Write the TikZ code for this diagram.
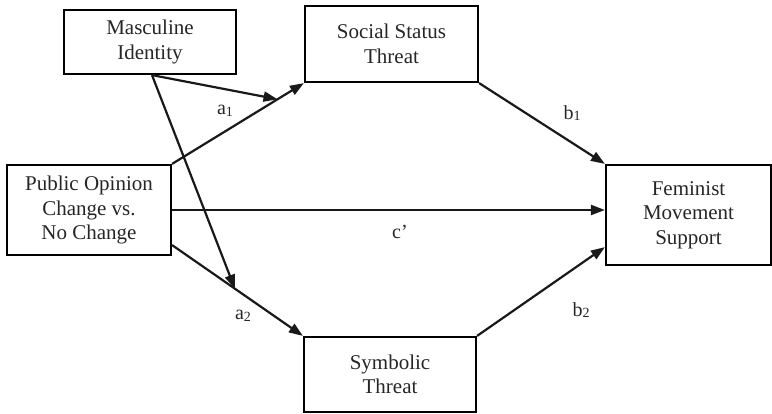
\documentclass[tikz,border=0pt]{standalone}
\usepackage{fontspec}
\setmainfont{Liberation Serif}
\usetikzlibrary{arrows.meta,calc}
\tikzset{
  box/.style={draw=black, line width=2.2pt, rectangle, inner sep=0pt, align=center,
    font=\fontsize{21}{24.5}\selectfont, text=black!85},
  conn/.style={line width=2.2pt, draw=black!90, -{Triangle[length=14pt,width=10pt]}},
  lbl/.style={font=\fontsize{20}{22}\selectfont, text=black!85, inner sep=0pt}
}
\newcommand{\subsc}[1]{\raisebox{-1.5pt}{\fontsize{14}{14}\selectfont #1}}
\begin{document}
\begin{tikzpicture}[x=1pt,y=1pt]
\useasboundingbox (0,0) rectangle (772,413);
\node[box, minimum width=172pt, minimum height=64pt] (MI) at (150,371) {Masculine\\Identity};
\node[box, minimum width=173pt, minimum height=76pt] (SST) at (391.5,369) {Social Status\\Threat};
\node[box, minimum width=164pt, minimum height=90pt] (PO) at (89,203) {Public Opinion\\Change vs.\\No Change};
\node[box, minimum width=172pt, minimum height=75pt] (SYM) at (390,38.5) {Symbolic\\Threat};
\node[box, minimum width=165pt, minimum height=100pt] (FEM) at (688.5,198) {Feminist\\Movement\\Support};
% paths
\draw[conn] (PO.north east) -- (SST.south west);
\draw[conn] ([yshift=11pt]PO.south east) -- (SYM.north west);
\draw[conn] (PO.east) -- (PO.east -| FEM.west);
\draw[conn] (SST.south east) -- (FEM.north west);
\draw[conn] (SYM.north east) -- ([yshift=19pt]FEM.south west);
\coordinate (m1) at ($(PO.north east)!0.8!(SST.south west)$);
\coordinate (m2) at ($([yshift=11pt]PO.south east)!0.48!(SYM.north west)$);
\draw[conn] ([xshift=2pt]MI.south) -- (m1);
\draw[conn] ([xshift=2pt]MI.south) -- (m2);
% labels
\node[lbl] (la1) at (225,302) {a\subsc{1}};
\node[lbl] (la2) at (243,97) {a\subsc{2}};
\node[lbl] (lb1) at (572,300) {b\subsc{1}};
\node[lbl] (lb2) at (581,103) {b\subsc{2}};
\node[lbl] (lc) at (400,181) {c’};
\end{tikzpicture}
\end{document}
